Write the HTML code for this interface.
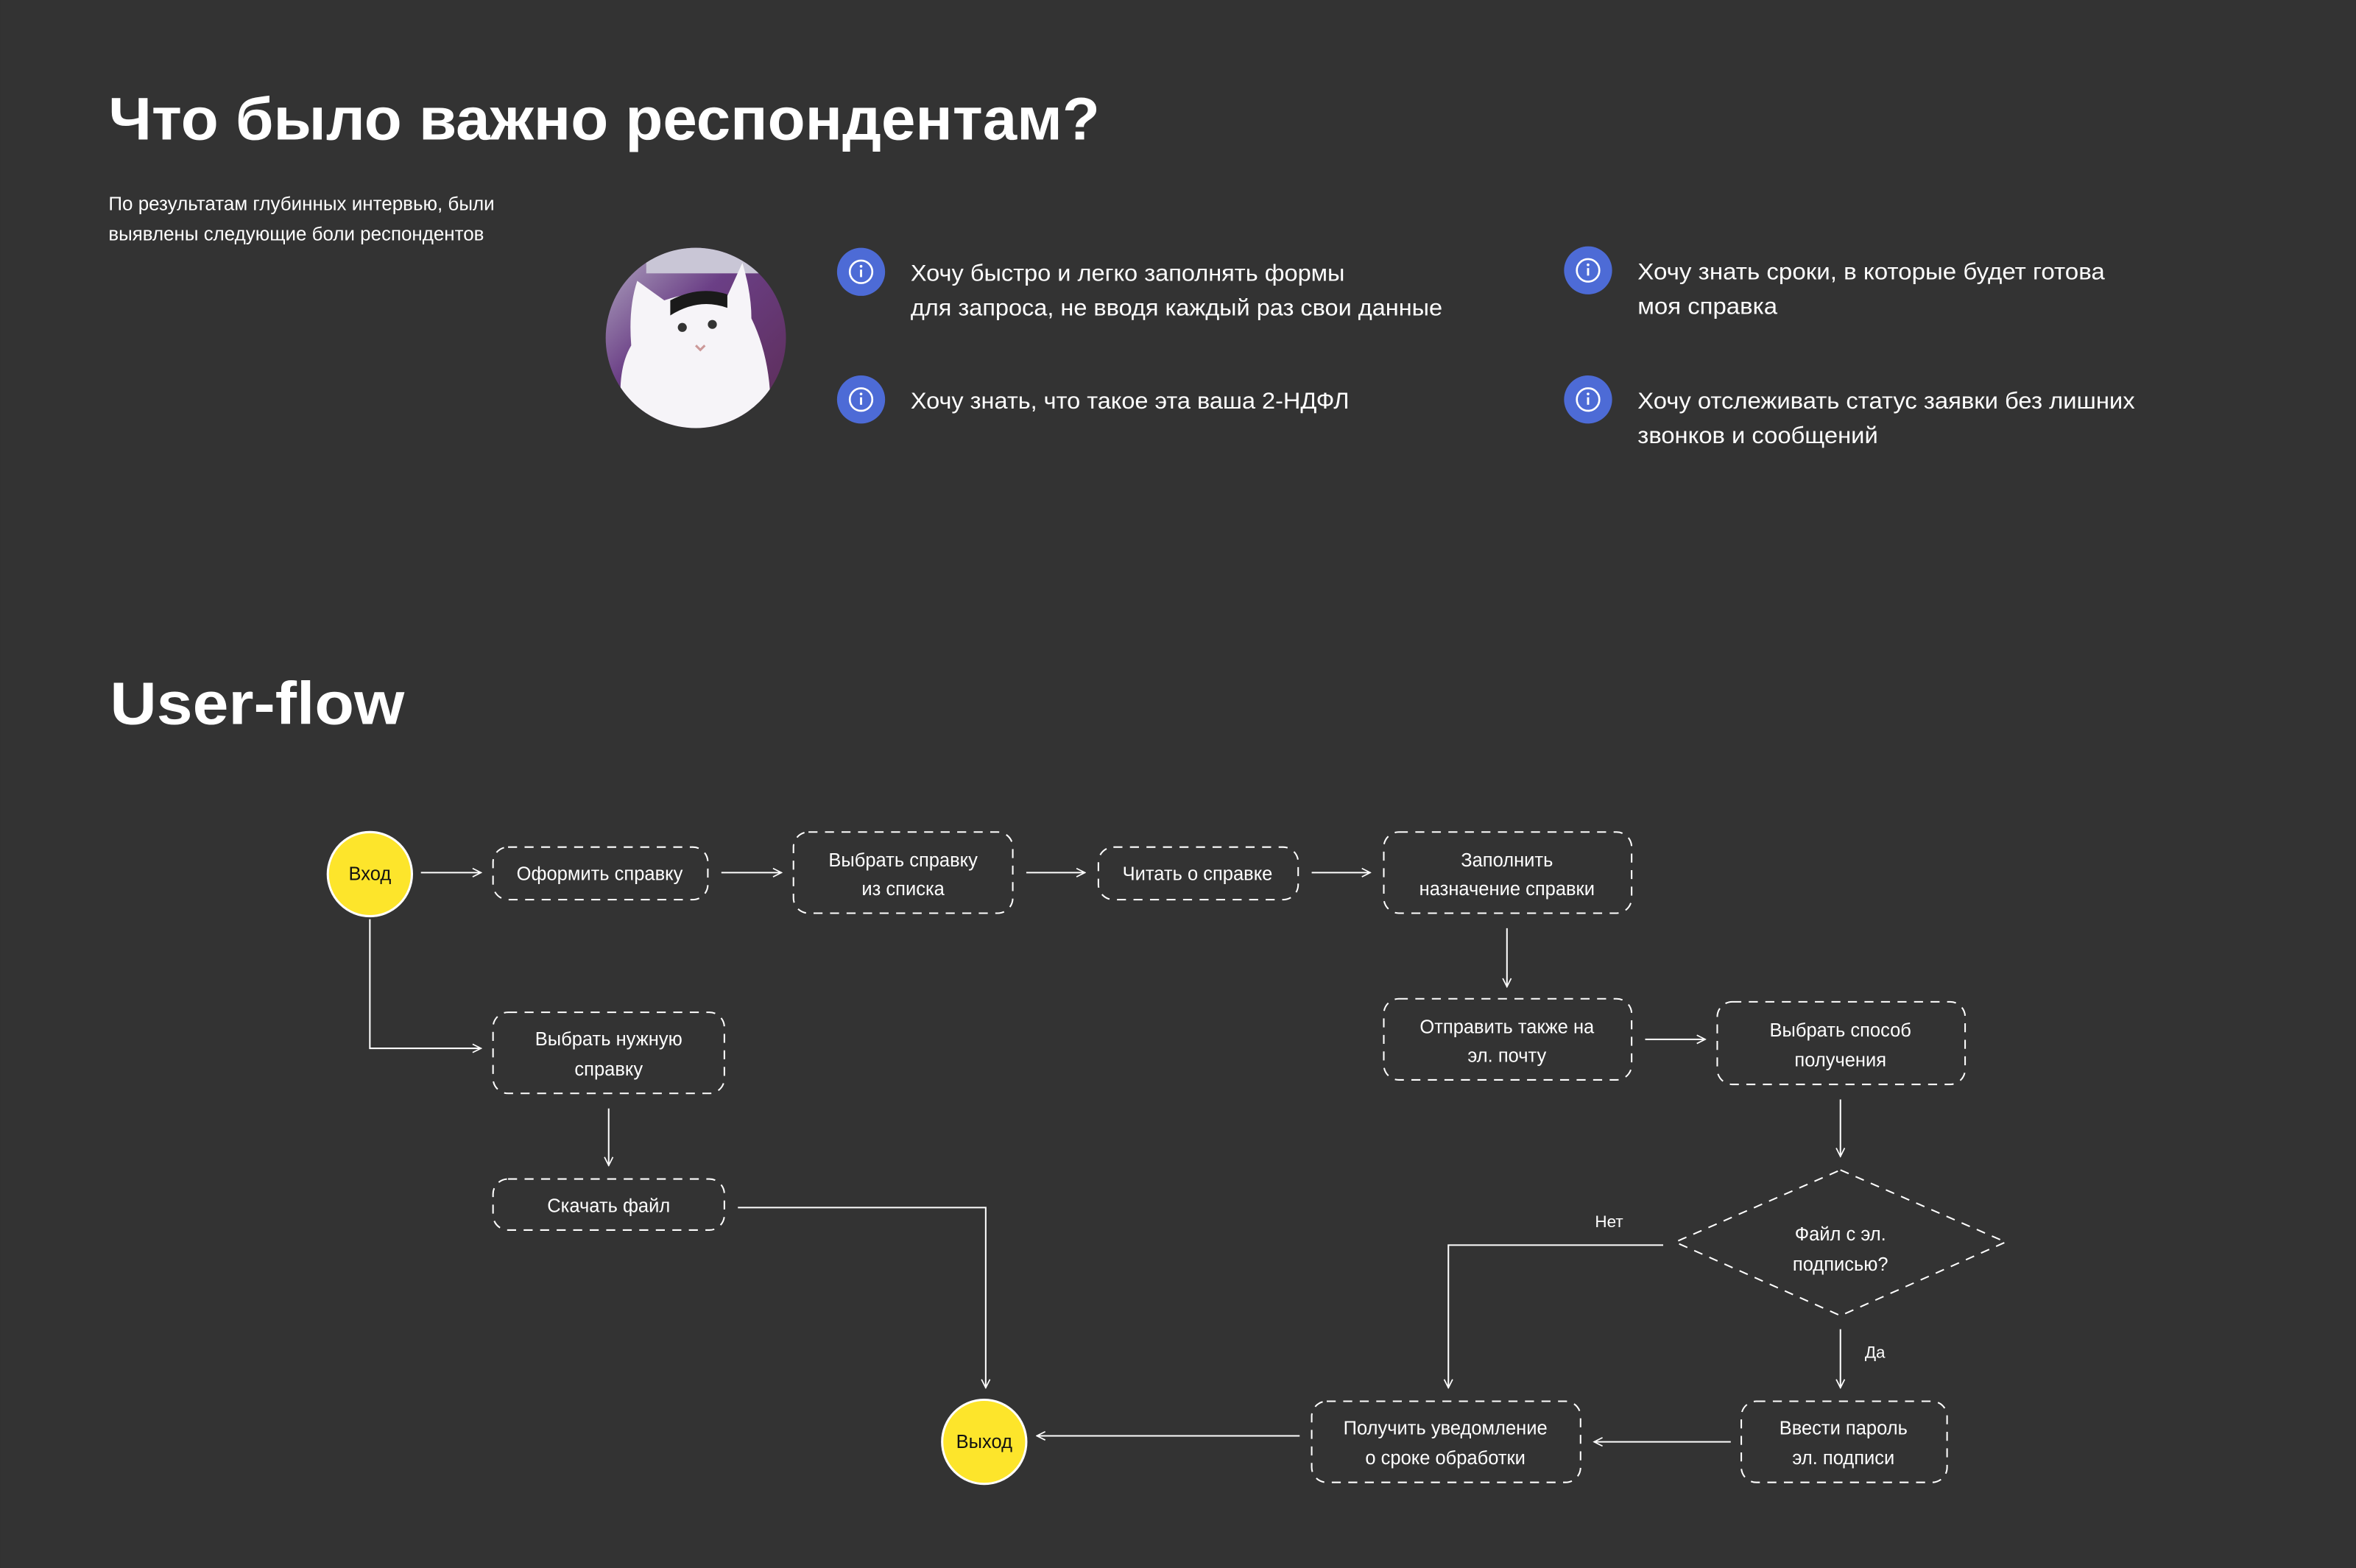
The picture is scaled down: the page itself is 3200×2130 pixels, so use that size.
<!DOCTYPE html>
<html><head><meta charset="utf-8"><style>
html,body{margin:0;padding:0;background:#333;}
svg{display:block;}
text{font-family:"Liberation Sans","Noto Sans CJK SC",sans-serif;fill:#fff;}
</style></head><body>
<svg width="3200" height="2130" viewBox="0 0 1568 1044" xmlns="http://www.w3.org/2000/svg">
<defs>
<marker id="a" viewBox="0 0 10 10" refX="9" refY="5" markerWidth="7" markerHeight="7" orient="auto" markerUnits="userSpaceOnUse"><path d="M1,1 L9,5 L1,9" fill="none" stroke="#fff" stroke-width="1.2"/></marker>
<clipPath id="cc"><circle cx="463" cy="225" r="60"/></clipPath>
<linearGradient id="bg" x1="0" y1="0" x2="1" y2="1"><stop offset="0" stop-color="#b9b4c8"/><stop offset="0.4" stop-color="#6b3f86"/><stop offset="1" stop-color="#5a2a50"/></linearGradient>
</defs>
<rect width="1568" height="1044" fill="#333"/>
<text x="72" y="93" font-size="40" font-weight="bold" textLength="660" lengthAdjust="spacingAndGlyphs">Что было важно респондентам?</text>
<text x="72" y="140" font-size="12.5" textLength="257" lengthAdjust="spacingAndGlyphs">По результатам глубинных интервью, были</text>
<text x="72" y="160" font-size="12.5" textLength="250" lengthAdjust="spacingAndGlyphs">выявлены следующие боли респондентов</text>

<g clip-path="url(#cc)">
<rect x="400" y="160" width="130" height="130" fill="url(#bg)"/>
<rect x="430" y="160" width="100" height="22" fill="#c9c6d6"/>
<path d="M416,290 Q408,250 420,230 Q418,205 424,187 L442,200 Q465,192 484,197 L494,175 Q500,195 500,212 Q516,245 512,290 Z" fill="#f6f4f8"/>
<path d="M446,200 Q465,190 484,196 L484,205 Q465,198 446,210Z" fill="#1a1a1a"/>
<circle cx="454" cy="218" r="3" fill="#333"/><circle cx="474" cy="216" r="3" fill="#333"/>
<path d="M463,230 l3,3 l3,-3" fill="none" stroke="#c99" stroke-width="1.5"/>
</g>

<g font-size="15.5">
<circle cx="573" cy="181" r="16" fill="#4d6bd6"/><circle cx="573" cy="181" r="7.5" fill="none" stroke="#fff" stroke-width="1.3"/><rect x="572.3" y="179.5" width="1.4" height="5" fill="#fff"/><circle cx="573" cy="177.3" r="0.9" fill="#fff"/>
<circle cx="573" cy="266" r="16" fill="#4d6bd6"/><circle cx="573" cy="266" r="7.5" fill="none" stroke="#fff" stroke-width="1.3"/><rect x="572.3" y="264.5" width="1.4" height="5" fill="#fff"/><circle cx="573" cy="262.3" r="0.9" fill="#fff"/>
<circle cx="1057" cy="180" r="16" fill="#4d6bd6"/><circle cx="1057" cy="180" r="7.5" fill="none" stroke="#fff" stroke-width="1.3"/><rect x="1056.3" y="178.5" width="1.4" height="5" fill="#fff"/><circle cx="1057" cy="176.3" r="0.9" fill="#fff"/>
<circle cx="1057" cy="266" r="16" fill="#4d6bd6"/><circle cx="1057" cy="266" r="7.5" fill="none" stroke="#fff" stroke-width="1.3"/><rect x="1056.3" y="264.5" width="1.4" height="5" fill="#fff"/><circle cx="1057" cy="262.3" r="0.9" fill="#fff"/>
<text x="606" y="187" textLength="289" lengthAdjust="spacingAndGlyphs">Хочу быстро и легко заполнять формы</text>
<text x="606" y="210" textLength="354" lengthAdjust="spacingAndGlyphs">для запроса, не вводя каждый раз свои данные</text>
<text x="606" y="272" textLength="292" lengthAdjust="spacingAndGlyphs">Хочу знать, что такое эта ваша 2-НДФЛ</text>
<text x="1090" y="186" textLength="311" lengthAdjust="spacingAndGlyphs">Хочу знать сроки, в которые будет готова</text>
<text x="1090" y="209" textLength="93" lengthAdjust="spacingAndGlyphs">моя справка</text>
<text x="1090" y="272" textLength="331" lengthAdjust="spacingAndGlyphs">Хочу отслеживать статус заявки без лишних</text>
<text x="1090" y="295" textLength="160" lengthAdjust="spacingAndGlyphs">звонков и сообщений</text>
</g>

<text x="73" y="482" font-size="40" font-weight="bold" textLength="196" lengthAdjust="spacingAndGlyphs">User-flow</text>

<g fill="none" stroke="#fff" stroke-width="1" stroke-dasharray="6,5">
<rect x="328" y="564" width="143" height="35" rx="10"/>
<rect x="528" y="554" width="146" height="54" rx="10"/>
<rect x="731" y="564" width="133" height="35" rx="10"/>
<rect x="921" y="554" width="165" height="54" rx="10"/>
<rect x="921" y="665" width="165" height="54" rx="10"/>
<rect x="1143" y="667" width="165" height="55" rx="10"/>
<rect x="328" y="674" width="154" height="54" rx="10"/>
<rect x="328" y="785" width="154" height="34" rx="10"/>
<rect x="873" y="933" width="179" height="54" rx="10"/>
<rect x="1159" y="933" width="137" height="54" rx="10"/>
<path d="M1225,779 L1335,827 L1225,876 L1115,827 Z"/>
</g>

<g fill="none" stroke="#fff" stroke-width="1" marker-end="url(#a)">
<path d="M280,581 H320"/>
<path d="M480,581 H520"/>
<path d="M683,581 H722"/>
<path d="M873,581 H912"/>
<path d="M1003,618 V657"/>
<path d="M1095,692 H1135"/>
<path d="M1225,732 V770"/>
<path d="M1225,885 V924"/>
<path d="M1107,829 H964 V924"/>
<path d="M1152,960 H1061"/>
<path d="M865,956 H690"/>
<path d="M491,804 H656 V924"/>
<path d="M246,612 V698 H320"/>
<path d="M405,738 V776"/>
</g>

<circle cx="246" cy="582" r="28" fill="#fde52b" stroke="#fff" stroke-width="1.5"/>
<circle cx="655" cy="960" r="28" fill="#fde52b" stroke="#fff" stroke-width="1.5"/>
<g font-size="12.5" text-anchor="middle">
<text x="246" y="586" style="fill:#111">Вход</text>
<text x="655" y="964" style="fill:#111">Выход</text>
<text x="399" y="586">Оформить справку</text>
<text x="601" y="577">Выбрать справку</text>
<text x="601" y="596">из списка</text>
<text x="797" y="586">Читать о справке</text>
<text x="1003" y="577">Заполнить</text>
<text x="1003" y="596">назначение справки</text>
<text x="1003" y="688">Отправить также на</text>
<text x="1003" y="707">эл. почту</text>
<text x="1225" y="690">Выбрать способ</text>
<text x="1225" y="710">получения</text>
<text x="405" y="696">Выбрать нужную</text>
<text x="405" y="716">справку</text>
<text x="405" y="807">Скачать файл</text>
<text x="1225" y="826">Файл с эл.</text>
<text x="1225" y="846">подписью?</text>
<text x="962" y="955">Получить уведомление</text>
<text x="962" y="975">о сроке обработки</text>
<text x="1227" y="955">Ввести пароль</text>
<text x="1227" y="975">эл. подписи</text>
<text x="1071" y="817" font-size="11">Нет</text>
<text x="1248" y="904" font-size="11">Да</text>
</g>
</svg>
</body></html>
